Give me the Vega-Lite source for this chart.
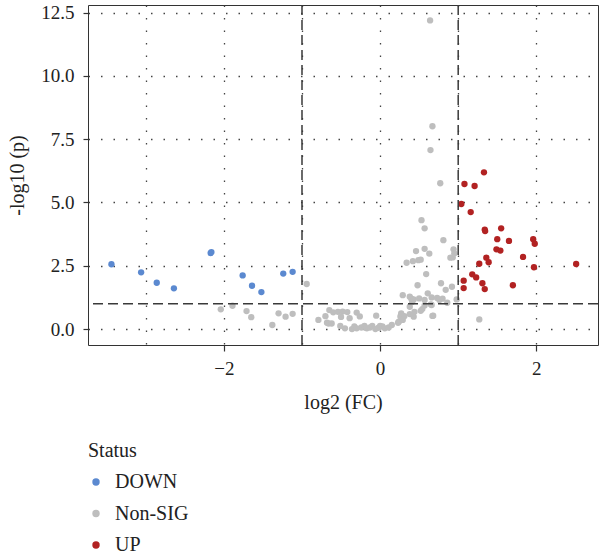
{
  "$schema": "https://vega.github.io/schema/vega-lite/v6.json",
  "width": 510,
  "height": 340,
  "autosize": "none",
  "padding": {"left": 88, "top": 5, "right": 2, "bottom": 214},
  "background": "white",
  "config": {
    "view": {"stroke": "#333333", "strokeWidth": 1},
    "font": "Liberation Serif, DejaVu Serif, serif",
    "axis": {
      "labelFont": "Liberation Serif, DejaVu Serif, serif",
      "titleFont": "Liberation Serif, DejaVu Serif, serif",
      "labelFontSize": 19,
      "titleFontSize": 20,
      "titleFontWeight": "normal",
      "labelColor": "#222222",
      "titleColor": "#222222",
      "domain": false,
      "tickColor": "#333333",
      "tickWidth": 1.2,
      "tickSize": 6,
      "gridColor": "#444444",
      "gridWidth": 1.3,
      "gridDash": [1.5, 11],
      "gridOpacity": 1
    },
    "legend": {
      "labelFont": "Liberation Serif, DejaVu Serif, serif",
      "titleFont": "Liberation Serif, DejaVu Serif, serif",
      "labelFontSize": 20,
      "titleFontSize": 20,
      "titleFontWeight": "normal",
      "labelColor": "#222222",
      "titleColor": "#222222"
    }
  },
  "datasets": {
    "genes": [
      {"log2FC": -3.44, "p": 2.56, "Status": "DOWN"},
      {"log2FC": -3.06, "p": 2.24, "Status": "DOWN"},
      {"log2FC": -2.86, "p": 1.83, "Status": "DOWN"},
      {"log2FC": -2.64, "p": 1.61, "Status": "DOWN"},
      {"log2FC": -2.17, "p": 3.0, "Status": "DOWN"},
      {"log2FC": -2.16, "p": 3.04, "Status": "DOWN"},
      {"log2FC": -1.76, "p": 2.12, "Status": "DOWN"},
      {"log2FC": -1.64, "p": 1.71, "Status": "DOWN"},
      {"log2FC": -1.52, "p": 1.46, "Status": "DOWN"},
      {"log2FC": -1.24, "p": 2.19, "Status": "DOWN"},
      {"log2FC": -1.12, "p": 2.26, "Status": "DOWN"},
      {"log2FC": -2.04, "p": 0.78, "Status": "Non-SIG"},
      {"log2FC": -1.89, "p": 0.92, "Status": "Non-SIG"},
      {"log2FC": -1.71, "p": 0.71, "Status": "Non-SIG"},
      {"log2FC": -1.65, "p": 0.47, "Status": "Non-SIG"},
      {"log2FC": -1.38, "p": 0.16, "Status": "Non-SIG"},
      {"log2FC": -1.30, "p": 0.62, "Status": "Non-SIG"},
      {"log2FC": -1.21, "p": 0.49, "Status": "Non-SIG"},
      {"log2FC": -1.12, "p": 0.60, "Status": "Non-SIG"},
      {"log2FC": -0.94, "p": 1.78, "Status": "Non-SIG"},
      {"log2FC": -0.79, "p": 0.36, "Status": "Non-SIG"},
      {"log2FC": -0.70, "p": 0.51, "Status": "Non-SIG"},
      {"log2FC": -0.65, "p": 0.75, "Status": "Non-SIG"},
      {"log2FC": -0.68, "p": 0.25, "Status": "Non-SIG"},
      {"log2FC": -0.60, "p": 0.66, "Status": "Non-SIG"},
      {"log2FC": -0.54, "p": 0.68, "Status": "Non-SIG"},
      {"log2FC": -0.48, "p": 0.69, "Status": "Non-SIG"},
      {"log2FC": -0.42, "p": 0.67, "Status": "Non-SIG"},
      {"log2FC": -0.50, "p": 0.48, "Status": "Non-SIG"},
      {"log2FC": -0.39, "p": 0.43, "Status": "Non-SIG"},
      {"log2FC": -0.30, "p": 0.65, "Status": "Non-SIG"},
      {"log2FC": -0.26, "p": 0.50, "Status": "Non-SIG"},
      {"log2FC": -0.66, "p": 0.22, "Status": "Non-SIG"},
      {"log2FC": -0.62, "p": 0.22, "Status": "Non-SIG"},
      {"log2FC": -0.51, "p": 0.12, "Status": "Non-SIG"},
      {"log2FC": -0.45, "p": 0.03, "Status": "Non-SIG"},
      {"log2FC": -0.36, "p": 0.0, "Status": "Non-SIG"},
      {"log2FC": -0.33, "p": 0.10, "Status": "Non-SIG"},
      {"log2FC": -0.30, "p": 0.03, "Status": "Non-SIG"},
      {"log2FC": -0.24, "p": 0.06, "Status": "Non-SIG"},
      {"log2FC": -0.20, "p": 0.12, "Status": "Non-SIG"},
      {"log2FC": -0.17, "p": 0.03, "Status": "Non-SIG"},
      {"log2FC": -0.13, "p": 0.06, "Status": "Non-SIG"},
      {"log2FC": -0.10, "p": 0.12, "Status": "Non-SIG"},
      {"log2FC": -0.06, "p": 0.0, "Status": "Non-SIG"},
      {"log2FC": -0.02, "p": 0.05, "Status": "Non-SIG"},
      {"log2FC": 0.0, "p": 0.12, "Status": "Non-SIG"},
      {"log2FC": 0.03, "p": 0.10, "Status": "Non-SIG"},
      {"log2FC": 0.06, "p": 0.03, "Status": "Non-SIG"},
      {"log2FC": 0.11, "p": 0.06, "Status": "Non-SIG"},
      {"log2FC": 0.15, "p": 0.16, "Status": "Non-SIG"},
      {"log2FC": -0.05, "p": 0.53, "Status": "Non-SIG"},
      {"log2FC": 0.23, "p": 0.25, "Status": "Non-SIG"},
      {"log2FC": 0.24, "p": 0.29, "Status": "Non-SIG"},
      {"log2FC": 0.29, "p": 0.36, "Status": "Non-SIG"},
      {"log2FC": 0.26, "p": 0.50, "Status": "Non-SIG"},
      {"log2FC": 0.27, "p": 0.62, "Status": "Non-SIG"},
      {"log2FC": 0.31, "p": 0.51, "Status": "Non-SIG"},
      {"log2FC": 0.38, "p": 0.59, "Status": "Non-SIG"},
      {"log2FC": 0.43, "p": 0.49, "Status": "Non-SIG"},
      {"log2FC": 0.44, "p": 0.68, "Status": "Non-SIG"},
      {"log2FC": 0.52, "p": 0.72, "Status": "Non-SIG"},
      {"log2FC": 0.54, "p": 0.79, "Status": "Non-SIG"},
      {"log2FC": 0.38, "p": 0.88, "Status": "Non-SIG"},
      {"log2FC": 0.68, "p": 0.53, "Status": "Non-SIG"},
      {"log2FC": 0.67, "p": 0.52, "Status": "Non-SIG"},
      {"log2FC": 0.66, "p": 0.95, "Status": "Non-SIG"},
      {"log2FC": 0.57, "p": 0.93, "Status": "Non-SIG"},
      {"log2FC": 0.65, "p": 0.97, "Status": "Non-SIG"},
      {"log2FC": 0.29, "p": 1.34, "Status": "Non-SIG"},
      {"log2FC": 0.38, "p": 1.28, "Status": "Non-SIG"},
      {"log2FC": 0.40, "p": 1.20, "Status": "Non-SIG"},
      {"log2FC": 0.41, "p": 1.07, "Status": "Non-SIG"},
      {"log2FC": 0.43, "p": 1.17, "Status": "Non-SIG"},
      {"log2FC": 0.50, "p": 1.21, "Status": "Non-SIG"},
      {"log2FC": 0.57, "p": 1.15, "Status": "Non-SIG"},
      {"log2FC": 0.61, "p": 1.41, "Status": "Non-SIG"},
      {"log2FC": 0.66, "p": 1.25, "Status": "Non-SIG"},
      {"log2FC": 0.73, "p": 1.23, "Status": "Non-SIG"},
      {"log2FC": 0.76, "p": 1.15, "Status": "Non-SIG"},
      {"log2FC": 0.80, "p": 1.20, "Status": "Non-SIG"},
      {"log2FC": 0.86, "p": 1.04, "Status": "Non-SIG"},
      {"log2FC": 0.98, "p": 1.17, "Status": "Non-SIG"},
      {"log2FC": 0.84, "p": 1.55, "Status": "Non-SIG"},
      {"log2FC": 0.92, "p": 1.67, "Status": "Non-SIG"},
      {"log2FC": 0.48, "p": 1.73, "Status": "Non-SIG"},
      {"log2FC": 0.78, "p": 1.81, "Status": "Non-SIG"},
      {"log2FC": 0.59, "p": 2.17, "Status": "Non-SIG"},
      {"log2FC": 0.34, "p": 2.62, "Status": "Non-SIG"},
      {"log2FC": 0.42, "p": 2.68, "Status": "Non-SIG"},
      {"log2FC": 0.49, "p": 2.72, "Status": "Non-SIG"},
      {"log2FC": 0.52, "p": 2.74, "Status": "Non-SIG"},
      {"log2FC": 0.46, "p": 3.08, "Status": "Non-SIG"},
      {"log2FC": 0.57, "p": 3.17, "Status": "Non-SIG"},
      {"log2FC": 0.63, "p": 2.98, "Status": "Non-SIG"},
      {"log2FC": 0.81, "p": 3.51, "Status": "Non-SIG"},
      {"log2FC": 0.57, "p": 3.98, "Status": "Non-SIG"},
      {"log2FC": 0.53, "p": 4.30, "Status": "Non-SIG"},
      {"log2FC": 0.77, "p": 5.76, "Status": "Non-SIG"},
      {"log2FC": 0.645, "p": 7.07, "Status": "Non-SIG"},
      {"log2FC": 0.67, "p": 8.01, "Status": "Non-SIG"},
      {"log2FC": 0.64, "p": 12.19, "Status": "Non-SIG"},
      {"log2FC": 0.94, "p": 3.15, "Status": "Non-SIG"},
      {"log2FC": 0.95, "p": 2.99, "Status": "Non-SIG"},
      {"log2FC": 0.90, "p": 2.82, "Status": "Non-SIG"},
      {"log2FC": 0.93, "p": 2.83, "Status": "Non-SIG"},
      {"log2FC": 1.27, "p": 0.38, "Status": "Non-SIG"},
      {"log2FC": 1.33, "p": 6.19, "Status": "UP"},
      {"log2FC": 1.08, "p": 5.73, "Status": "UP"},
      {"log2FC": 1.21, "p": 5.65, "Status": "UP"},
      {"log2FC": 1.04, "p": 4.94, "Status": "UP"},
      {"log2FC": 1.16, "p": 4.62, "Status": "UP"},
      {"log2FC": 1.34, "p": 3.93, "Status": "UP"},
      {"log2FC": 1.345, "p": 3.87, "Status": "UP"},
      {"log2FC": 1.55, "p": 3.98, "Status": "UP"},
      {"log2FC": 1.50, "p": 3.55, "Status": "UP"},
      {"log2FC": 1.65, "p": 3.48, "Status": "UP"},
      {"log2FC": 1.96, "p": 3.55, "Status": "UP"},
      {"log2FC": 1.98, "p": 3.37, "Status": "UP"},
      {"log2FC": 1.49, "p": 3.15, "Status": "UP"},
      {"log2FC": 1.54, "p": 3.10, "Status": "UP"},
      {"log2FC": 1.83, "p": 2.85, "Status": "UP"},
      {"log2FC": 1.36, "p": 2.82, "Status": "UP"},
      {"log2FC": 1.39, "p": 2.64, "Status": "UP"},
      {"log2FC": 1.27, "p": 2.58, "Status": "UP"},
      {"log2FC": 1.97, "p": 2.44, "Status": "UP"},
      {"log2FC": 2.51, "p": 2.57, "Status": "UP"},
      {"log2FC": 1.07, "p": 1.91, "Status": "UP"},
      {"log2FC": 1.18, "p": 2.16, "Status": "UP"},
      {"log2FC": 1.23, "p": 2.04, "Status": "UP"},
      {"log2FC": 1.31, "p": 1.81, "Status": "UP"},
      {"log2FC": 1.34, "p": 1.58, "Status": "UP"},
      {"log2FC": 1.07, "p": 1.62, "Status": "UP"},
      {"log2FC": 1.70, "p": 1.73, "Status": "UP"}
    ],
    "vlines": [{"log2FC": -1}, {"log2FC": 1}],
    "hlines": [{"p": 1}]
  },
  "layer": [
    {
      "data": {"name": "genes"},
      "mark": {"type": "point", "shape": "circle", "filled": true, "opacity": 1, "size": 40},
      "encoding": {
        "x": {
          "field": "log2FC",
          "type": "quantitative",
          "title": "log2 (FC)",
          "scale": {"domain": [-3.74, 2.79], "nice": false, "zero": false},
          "axis": {
            "values": [-3, -2, -1, 0, 1, 2],
            "format": "d",
            "labelExpr": "datum.value % 2 === 0 ? datum.label : ''",
            "tickOpacity": {"condition": {"test": "datum.value % 2 !== 0", "value": 0}, "value": 1},
            "labelPadding": 8,
            "titlePadding": 14,
            "grid": true
          }
        },
        "y": {
          "field": "p",
          "type": "quantitative",
          "title": "-log10 (p)",
          "scale": {"domain": [-0.63, 12.8], "nice": false, "zero": false},
          "axis": {
            "values": [0, 1.25, 2.5, 3.75, 5, 6.25, 7.5, 8.75, 10, 11.25, 12.5],
            "labelExpr": "datum.value % 2.5 === 0 ? format(datum.value, '.1f') : ''",
            "tickOpacity": {"condition": {"test": "datum.value % 2.5 !== 0", "value": 0}, "value": 1},
            "tickSize": 5,
            "labelPadding": 9,
            "titlePadding": 13,
            "grid": true
          }
        },
        "color": {
          "field": "Status",
          "type": "nominal",
          "scale": {"domain": ["DOWN", "Non-SIG", "UP"], "range": ["#5B89D0", "#BEBEBE", "#B22222"]},
          "legend": {
            "orient": "none",
            "legendX": 0,
            "legendY": 436,
            "direction": "vertical",
            "padding": 0,
            "titlePadding": 11,
            "rowPadding": 11.5,
            "symbolType": "circle",
            "symbolSize": 55,
            "symbolStrokeWidth": 0,
            "labelOffset": 9,
            "symbolOffset": -2
          }
        }
      }
    },
    {
      "data": {"name": "vlines"},
      "mark": {"type": "rule", "color": "#3a3a3a", "strokeWidth": 1.5, "strokeDash": [10, 5]},
      "encoding": {"x": {"field": "log2FC", "type": "quantitative"}}
    },
    {
      "data": {"name": "hlines"},
      "mark": {"type": "rule", "color": "#3a3a3a", "strokeWidth": 1.5, "strokeDash": [10, 5]},
      "encoding": {"y": {"field": "p", "type": "quantitative"}}
    }
  ]
}
